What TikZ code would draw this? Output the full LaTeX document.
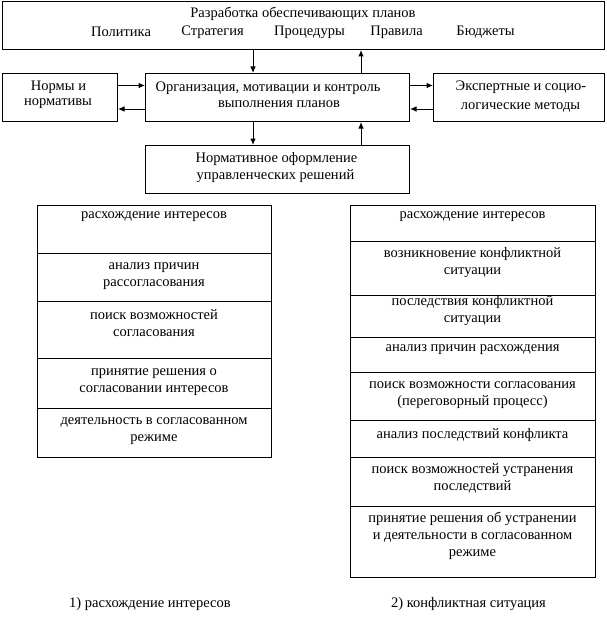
\documentclass[tikz,border=0pt]{standalone}
\usepackage{fontspec}
\setmainfont{Liberation Serif}
\usetikzlibrary{arrows.meta}
\tikzset{
  box/.style={draw, line width=1pt, anchor=north west, inner sep=0pt},
  txt/.style={align=center, inner sep=0pt, font=\fontsize{14.5}{17}\selectfont},
  arr/.style={line width=1pt, -{Latex[length=6.5pt,width=5.5pt]}},
}
\begin{document}
\begin{tikzpicture}[x=1pt,y=-1pt]
\useasboundingbox (0,0) rectangle (607,626);
% --- upper scheme ---
\node[box, minimum width=602pt, minimum height=48pt] (plans) at (2,1) {};
\node[txt] (plansT) at (303,14) {Разработка обеспечивающих планов};
\node[txt] (w1) at (121,32) {Политика};
\node[txt] (w2) at (212.5,32) {Стратегия};
\node[txt] (w3) at (309.5,32) {Процедуры};
\node[txt] (w4) at (396.5,32) {Правила};
\node[txt] (w5) at (485.5,32) {Бюджеты};

\node[box, minimum width=115pt, minimum height=48pt] (norms) at (2,73) {};
\node[txt] (normsT1) at (58.5,87.5) {Нормы и};
\node[txt] (normsT2) at (58,104) {нормативы};
\node[box, minimum width=264pt, minimum height=48pt] (org) at (145,73) {};
\node[txt] (orgT1) at (268,88) {Организация, мотивации и контроль};
\node[txt] (orgT2) at (279,104) {выполнения планов};
\node[box, minimum width=171pt, minimum height=48pt] (expert) at (433,73) {};
\node[txt] (expertT1) at (521,87.5) {Экспертные и социо-};
\node[txt] (expertT2) at (520.5,107) {логические методы};
\node[box, minimum width=264pt, minimum height=48pt] (legal) at (145,145) {};
\node[txt] (legalT1) at (276.5,159.5) {Нормативное оформление};
\node[txt] (legalT2) at (275.5,176) {управленческих решений};

\coordinate (xa) at (253,0);
\coordinate (xb) at (361,0);
\coordinate (ya) at (0,85.5);
\coordinate (yb) at (0,109);
\draw[arr] (xa |- plans.south) -- (xa |- org.north);
\draw[arr] (xb |- org.north) -- (xb |- plans.south);
\draw[arr] (xa |- org.south) -- (xa |- legal.north);
\draw[arr] (xb |- legal.north) -- (xb |- org.south);
\draw[arr] (norms.east |- ya) -- (org.west |- ya);
\draw[arr] (org.west |- yb) -- (norms.east |- yb);
\draw[arr] (org.east |- ya) -- (expert.west |- ya);
\draw[arr] (expert.west |- yb) -- (org.east |- yb);

% --- left column ---
\node[box, minimum width=234pt, minimum height=48pt] (L1) at (37,205) {};
\node[box, minimum width=234pt, minimum height=48pt] (L2) at (37,253) {};
\node[box, minimum width=234pt, minimum height=57pt] (L3) at (37,301) {};
\node[box, minimum width=234pt, minimum height=50pt] (L4) at (37,358) {};
\node[box, minimum width=234pt, minimum height=49pt] (L5) at (37,408) {};
\node[txt] (L1T) at (154,217) {расхождение интересов};
\node[txt] (L2T) at (154,276.5) {анализ причин\\рассогласования};
\node[txt] (L3T) at (154,323.5) {поиск возможностей\\согласования};
\node[txt] (L4T) at (154,382) {принятие решения о\\согласовании интересов};
\node[txt] (L5T) at (154,431.5) {деятельность в согласованном\\режиме};

% --- right column ---
\node[box, minimum width=245pt, minimum height=36pt] (R1) at (350,205) {};
\node[box, minimum width=245pt, minimum height=54pt] (R2) at (350,241) {};
\node[box, minimum width=245pt, minimum height=42pt] (R3) at (350,295) {};
\node[box, minimum width=245pt, minimum height=35pt] (R4) at (350,337) {};
\node[box, minimum width=245pt, minimum height=48pt] (R5) at (350,372) {};
\node[box, minimum width=245pt, minimum height=37pt] (R6) at (350,420) {};
\node[box, minimum width=245pt, minimum height=49pt] (R7) at (350,457) {};
\node[box, minimum width=245pt, minimum height=71pt] (R8) at (350,506) {};
\node[txt] (R1T) at (472.5,217) {расхождение интересов};
\node[txt] (R2T) at (472.5,263) {возникновение конфликтной\\ситуации};
\node[txt] (R3T) at (472.5,310.5) {последствия конфликтной\\ситуации};
\node[txt] (R4T) at (472.5,350) {анализ причин расхождения};
\node[txt] (R5T) at (472.5,395) {поиск возможности согласования\\(переговорный процесс)};
\node[txt] (R6T) at (472.5,435) {анализ последствий конфликта};
\node[txt] (R7T) at (472.5,478.5) {поиск возможностей устранения\\последствий};
\node[txt] (R8T) at (472.5,535.5) {принятие решения об устранении\\и деятельности в согласованном\\режиме};

% --- captions ---
\node[txt] (cap1) at (150,604) {1) расхождение интересов};
\node[txt] (cap2) at (468.5,604) {2) конфликтная ситуация};
\end{tikzpicture}
\end{document}
